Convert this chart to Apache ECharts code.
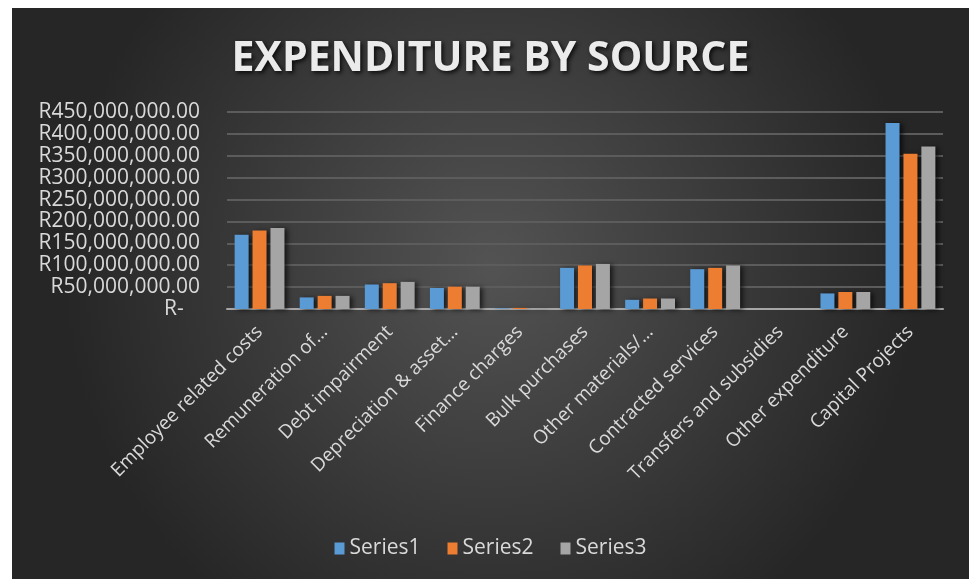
<!DOCTYPE html>
<html>
<head>
<meta charset="utf-8">
<title>Expenditure by source</title>
<script src="https://cdn.jsdelivr.net/npm/echarts@6/dist/echarts.min.js"></script>
<style>
    html, body { margin: 0; padding: 0; background: #fff; }
    #chart { position: absolute; left: 12px; top: 8px; width: 957px; height: 571px; }
</style>
</head>
<body>
<div id="chart"></div>
<script>
(function () {
    'use strict';

    // Data (rand)
    var categories = [
        'Employee related costs', 'Remuneration of\u2026', 'Debt impairment',
        'Depreciation & asset\u2026', 'Finance charges', 'Bulk purchases',
        'Other materials/\u2026', 'Contracted services', 'Transfers and subsidies',
        'Other expenditure', 'Capital Projects'
    ];
    var series1 = [169600000, 26500000, 56000000, 48000000, 1500000, 94000000,
        21000000, 91000000, 0, 35600000, 424700000];
    var series2 = [179500000, 30000000, 59000000, 51000000, 2500000, 99500000,
        24000000, 94000000, 0, 38800000, 354600000];
    var series3 = [185000000, 30000000, 62000000, 51000000, 1500000, 103000000,
        24000000, 99500000, 0, 38800000, 371000000];
    var seriesNames = ['Series1', 'Series2', 'Series3'];
    var yTicks = { min: 0, max: 450000000, interval: 50000000 };

    var COLORS = ['#5b9bd5', '#ed7d31', '#a5a5a5'];
    var FONT = '"Open Sans", "Noto Sans", sans-serif';
    var TEXT = '#d9d9d9';

    /** Excel-style accounting label: R450,000,000.00, zero shown as R- */
    function randLabel(v) {
        if (v === 0) return 'R-   ';
        var s = String(Math.round(v)).replace(/\B(?=(\d{3})+(?!\d))/g, ',');
        return 'R' + s + '.00';
    }

    function barSeries(name, data, idx) {
        return {
            name: name,
            type: 'bar',
            data: data,
            barWidth: 14,
            barGap: '28%',
            itemStyle: {
                color: COLORS[idx],
                shadowColor: 'rgba(0,0,0,0.65)',
                shadowBlur: 5,
                shadowOffsetX: 3,
                shadowOffsetY: 1
            }
        };
    }

    var chart = echarts.init(document.getElementById('chart'), null, { renderer: 'canvas' });

    chart.setOption({
        animation: false,
        backgroundColor: {
            type: 'radial', x: 0.5, y: 0.45, r: 0.75,
            colorStops: [
                { offset: 0, color: '#535353' },
                { offset: 1, color: '#262626' }
            ]
        },
        color: COLORS,
        title: {
            text: 'EXPENDITURE BY SOURCE',
            left: 'center',
            top: 26,
            textStyle: {
                fontFamily: FONT,
                fontWeight: 'bold',
                fontSize: 41,
                color: '#ebebeb',
                textShadowColor: 'rgba(0,0,0,0.8)',
                textShadowBlur: 4,
                textShadowOffsetX: 2,
                textShadowOffsetY: 2
            }
        },
        legend: {
            data: seriesNames,
            top: 525,
            left: 'center',
            icon: 'rect',
            itemWidth: 10,
            itemHeight: 12,
            itemGap: 27,
            textStyle: { fontFamily: FONT, fontSize: 21, color: TEXT }
        },
        grid: { left: 215, right: 26, top: 104, bottom: 270 },
        xAxis: {
            type: 'category',
            data: categories,
            axisLine: { lineStyle: { color: '#a6a6a6', width: 2 } },
            axisTick: { show: false },
            axisLabel: {
                interval: 0,
                rotate: 45,
                margin: 20,
                fontFamily: FONT,
                fontSize: 19,
                color: TEXT
            }
        },
        yAxis: {
            type: 'value',
            min: yTicks.min,
            max: yTicks.max,
            interval: yTicks.interval,
            axisLine: { show: false },
            axisTick: { show: false },
            splitLine: { lineStyle: { color: '#5c5c5c', width: 2 } },
            axisLabel: {
                margin: 27,
                fontFamily: FONT,
                fontSize: 21,
                color: TEXT,
                formatter: randLabel
            }
        },
        series: [
            barSeries(seriesNames[0], series1, 0),
            barSeries(seriesNames[1], series2, 1),
            barSeries(seriesNames[2], series3, 2)
        ]
    });
})();
</script>
</body>
</html>
